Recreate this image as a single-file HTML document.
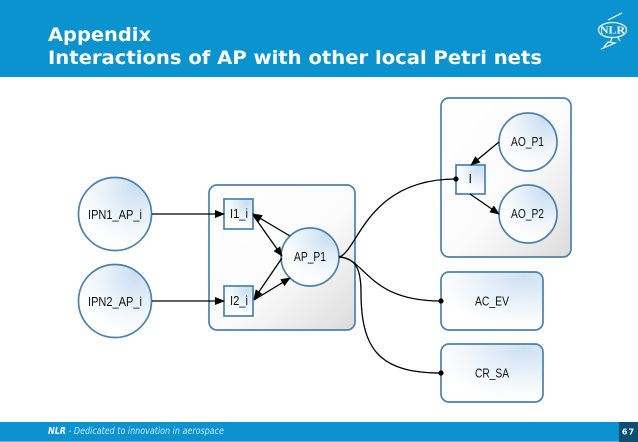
<!DOCTYPE html>
<html>
<head>
<meta charset="utf-8">
<style>
html,body{margin:0;padding:0;background:#fff;width:638px;height:442px;overflow:hidden}
svg{display:block}
text{font-family:"DejaVu Sans","Liberation Sans",sans-serif}
.l text{font-family:"Liberation Sans",sans-serif}
</style>
</head>
<body>
<svg width="638" height="442" viewBox="0 0 638 442" xmlns="http://www.w3.org/2000/svg">
<defs>
<linearGradient id="g" x1="0" y1="0" x2="1" y2="1">
<stop offset="0" stop-color="#fff"/><stop offset="0.55" stop-color="#fbfbfb"/><stop offset="1" stop-color="#dcdcdc"/>
</linearGradient>
<radialGradient id="c" cx="0.8" cy="0.12" r="0.85">
<stop offset="0" stop-color="#c9def1"/><stop offset="0.65" stop-color="#f0f6fb"/><stop offset="1" stop-color="#fff"/>
</radialGradient>
<radialGradient id="r" cx="0.82" cy="0.08" r="0.9">
<stop offset="0" stop-color="#cfe1f2"/><stop offset="0.7" stop-color="#f3f8fc"/><stop offset="1" stop-color="#fff"/>
</radialGradient>
<marker id="a" markerWidth="10" markerHeight="8" refX="9" refY="4" orient="auto" markerUnits="userSpaceOnUse"><path d="M0 0L10 4L0 8z" fill="#000"/></marker>
</defs>

<rect x="0" y="0" width="638" height="77" fill="#0a93cf"/>
<text x="48" y="41" font-size="19" font-weight="bold" fill="#fff" textLength="103" lengthAdjust="spacingAndGlyphs">Appendix</text>
<text x="48" y="64" font-size="19" font-weight="bold" fill="#fff" textLength="494" lengthAdjust="spacingAndGlyphs">Interactions of AP with other local Petri nets</text>

<g fill="none" stroke="#fff">
<ellipse cx="612.5" cy="30" rx="14" ry="7.5" stroke-width="1.2"/>
<path d="M608 20L622 13M601 49L615 43L608 42L604 47M612 38L610 43M618 38L620 41" stroke-width="1.2"/>
</g>
<text x="600" y="33.5" font-size="10" font-weight="bold" fill="#fff" textLength="25" lengthAdjust="spacingAndGlyphs" style="font-family:'Liberation Serif',serif">NLR</text>

<g stroke="#4a82ae" stroke-width="1.7">
<rect x="209" y="185" width="146" height="145" rx="8" fill="url(#g)"/>
<rect x="441" y="98" width="130" height="159" rx="8" fill="url(#g)"/>
<rect x="441" y="272" width="102" height="58" rx="8" fill="url(#r)"/>
<rect x="441" y="344" width="102" height="58" rx="8" fill="url(#r)"/>
<circle cx="115" cy="214" r="36.5" fill="url(#c)"/>
<circle cx="115" cy="301" r="36.5" fill="url(#c)"/>
<circle cx="310" cy="257" r="29" fill="url(#c)"/>
<circle cx="528" cy="142" r="29" fill="url(#c)"/>
<circle cx="528" cy="214" r="29" fill="url(#c)"/>
<rect x="224" y="199" width="29" height="30" fill="url(#c)"/>
<rect x="224" y="286" width="29" height="30" fill="url(#c)"/>
<rect x="456" y="165" width="29" height="29" fill="url(#c)"/>
</g>

<g fill="none" stroke="#000" stroke-width="1.3">
<path d="M152 214H224" marker-end="url(#a)"/>
<path d="M152 301H224" marker-end="url(#a)"/>
<path d="M290 236L253 214" marker-end="url(#a)"/>
<path d="M253 215L282 256" marker-end="url(#a)"/>
<path d="M282 258L254 299" marker-end="url(#a)"/>
<path d="M254 300L290 278" marker-end="url(#a)"/>
<path d="M499 142L471 165" marker-end="url(#a)"/>
<path d="M470 194L499 214" marker-end="url(#a)"/>
<path d="M339 257C358 252 366 179 456 179"/>
<path d="M339 257C366 258 367 301 441 301"/>
<path d="M339 257C355 258 361 268 361 292C361 350 380 373 441 373"/>
</g>
<circle cx="456" cy="179" r="2.6" fill="#000"/>
<circle cx="441" cy="301" r="2.6" fill="#000"/>
<circle cx="441" cy="373" r="2.6" fill="#000"/>

<g class="l" font-size="12.5" fill="#111" text-anchor="start">
<text x="88" y="219" textLength="54" lengthAdjust="spacingAndGlyphs">IPN1_AP_i</text>
<text x="88" y="306" textLength="54" lengthAdjust="spacingAndGlyphs">IPN2_AP_i</text>
<text x="230" y="218" textLength="18" lengthAdjust="spacingAndGlyphs">I1_i</text>
<text x="230" y="305" textLength="18" lengthAdjust="spacingAndGlyphs">I2_i</text>
<text x="294" y="261" textLength="32" lengthAdjust="spacingAndGlyphs">AP_P1</text>
<text x="511" y="146" textLength="33" lengthAdjust="spacingAndGlyphs">AO_P1</text>
<text x="511" y="218" textLength="33" lengthAdjust="spacingAndGlyphs">AO_P2</text>
<text x="468.5" y="183">I</text>
<text x="475" y="305.5" textLength="34" lengthAdjust="spacingAndGlyphs">AC_EV</text>
<text x="475" y="377.5" textLength="34" lengthAdjust="spacingAndGlyphs">CR_SA</text>
</g>

<rect x="0" y="422" width="638" height="20" fill="#0a93cf"/>
<rect x="0" y="441" width="638" height="1" fill="#5cb8e0"/>
<rect x="619" y="422" width="19" height="20" fill="#0d4f73"/>
<text x="48" y="434" font-size="10" font-style="italic" fill="#cdeaf7" textLength="176" lengthAdjust="spacingAndGlyphs"><tspan font-weight="bold" fill="#fff">NLR</tspan> - Dedicated to innovation in aerospace</text>
<text x="628.5" y="434.5" font-size="8" font-weight="bold" fill="#fff" text-anchor="middle" letter-spacing="1">67</text>
</svg>
</body>
</html>
